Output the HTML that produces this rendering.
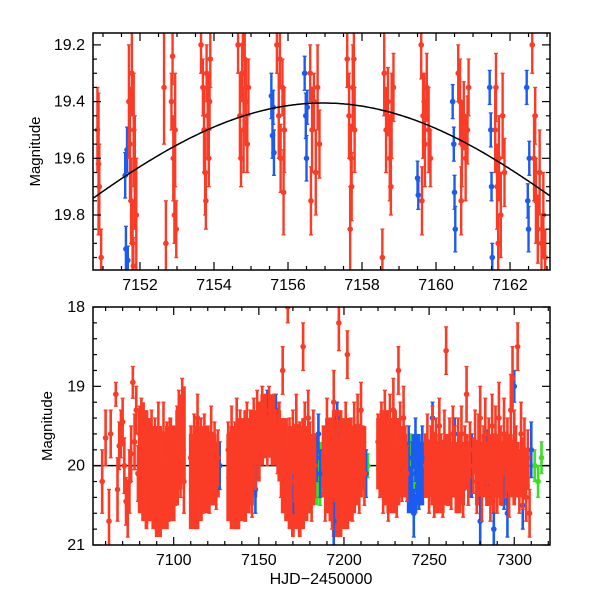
<!DOCTYPE html>
<html><head><meta charset="utf-8"><style>
body{margin:0;background:#fff}
svg text{font-family:"Liberation Sans",sans-serif;fill:#000}
</style></head><body>
<svg id="c" width="600" height="600" xmlns="http://www.w3.org/2000/svg"></svg>
<script>
// ---- data ----
const topRed=[[7150.85,19.5,.15],[7150.9,19.7,.15],[7150.95,19.95,.1],[7150.88,19.62,.25],
[7151.7,19.4,.2],[7151.73,19.55,.2],[7151.76,19.75,.15],[7151.8,19.9,.15],[7151.83,19.5,.2],[7151.86,19.65,.2],[7151.78,19.3,.15],[7151.9,19.8,.2],[7151.82,19.98,.1],
[7152.65,19.35,.2],[7152.7,19.9,.15],[7152.85,19.4,.1],[7152.88,19.24,.1],[7152.9,19.6,.15],[7152.93,19.8,.1],[7152.95,19.5,.2],[7152.98,19.85,.1],
[7153.65,19.2,.1],[7153.7,19.35,.1],[7153.73,19.5,.15],[7153.76,19.65,.15],[7153.8,19.3,.1],[7153.83,19.45,.15],[7153.86,19.6,.1],[7153.9,19.25,.1],[7153.78,19.75,.1],[7153.88,19.4,.1],
[7154.65,19.2,.1],[7154.7,19.45,.15],[7154.73,19.6,.1],[7154.76,19.3,.1],[7154.8,19.5,.15],[7154.83,19.25,.1],[7154.86,19.4,.15],[7154.9,19.55,.1],[7154.78,19.2,.05],[7154.93,19.35,.1],
[7155.7,19.2,.1],[7155.75,19.45,.15],[7155.8,19.6,.12],[7155.85,19.35,.1],[7155.9,19.5,.15],[7155.78,19.25,.1],[7155.88,19.72,.15],
[7156.6,19.3,.1],[7156.65,19.5,.15],[7156.7,19.4,.1],[7156.75,19.65,.15],[7156.8,19.35,.15],[7156.85,19.55,.12],[7156.62,19.75,.12],
[7157.6,19.25,.1],[7157.65,19.45,.15],[7157.7,19.6,.12],[7157.75,19.35,.15],[7157.8,19.5,.15],[7157.68,19.85,.15],[7157.78,19.25,.1],[7157.72,19.7,.12],
[7158.6,19.3,.15],[7158.65,19.5,.15],[7158.7,19.4,.12],[7158.75,19.6,.15],[7158.8,19.45,.15],[7158.85,19.35,.12],[7158.55,19.95,.1],[7158.78,19.7,.1],
[7159.6,19.2,.12],[7159.65,19.45,.15],[7159.7,19.55,.15],[7159.75,19.35,.12],[7159.8,19.5,.15],[7159.62,19.75,.12],[7159.85,19.6,.1],[7159.68,19.4,.1],
[7160.65,19.4,.15],[7160.7,19.55,.15],[7160.75,19.45,.12],[7160.8,19.6,.15],[7160.85,19.5,.12],[7160.68,19.75,.12],[7160.6,19.3,.1],[7160.88,19.35,.1],
[7161.6,19.5,.15],[7161.65,19.7,.15],[7161.7,19.6,.15],[7161.75,19.8,.15],[7161.8,19.45,.15],[7161.85,19.65,.12],[7161.68,19.9,.1],[7161.62,19.35,.12],
[7162.6,19.2,.1],[7162.65,19.6,.15],[7162.7,19.75,.15],[7162.75,19.85,.12],[7162.8,19.65,.15],[7162.85,19.9,.1],[7162.9,19.8,.15],[7162.95,19.95,.1],[7162.68,19.45,.1]];
const topBlue=[[7151.6,19.66,.08],[7151.62,19.92,.08],[7151.65,19.57,.08],[7151.67,19.96,.05],[7155.55,19.38,.08],[7155.58,19.52,.08],[7155.6,19.42,.06],[7155.62,19.58,.08],
[7156.45,19.3,.06],[7156.48,19.45,.08],[7156.5,19.6,.08],[7156.52,19.42,.06],[7159.5,19.67,.06],[7159.52,19.73,.05],[7160.45,19.4,.06],[7160.48,19.55,.06],[7160.5,19.72,.06],[7160.52,19.85,.08],
[7161.45,19.35,.06],[7161.48,19.5,.06],[7161.5,19.7,.05],[7161.52,19.95,.05],[7162.45,19.35,.06],[7162.48,19.75,.06],[7162.5,19.85,.08],[7162.52,19.6,.06]];
const botRed=[[7058,20.2,.4],[7060,19.65,.35],[7062,20.7,.4],[7063,19.6,.3],[7066,19.1,.15],[7067,20.3,.4],[7068,19.75,.3],[7069,19.6,.3],[7070,19.45,.3],[7071,20,.35],[7072,20.45,.3],[7073,20.55,.35],[7074,20.2,.4],[7075,19.85,.35],[7076,18.95,.2],[7077,19.7,.35],[7078,19.3,.3],[7079,20.1,.35],[7080,19.6,.35],[7081,19.5,.35],[7082,20.2,.35],[7083,19.8,.4],[7084,20.1,.35],[7085,19.9,.4],[7086,20.3,.35],[7087,19.7,.4],[7088,20.1,.4],[7089,19.8,.4],[7090,20.2,.4],[7091,19.55,.35],[7092,20,.45],[7093,20.3,.35],[7094,19.6,.4],[7095,20.1,.4],[7096,19.9,.45],[7097,20.4,.3],[7098,19.8,.4],[7099,20.2,.35],[7100,19.9,.4],[7101,20.1,.4],[7102,19.6,.35],[7103,19.4,.35],[7104,20,.4],[7105,19.3,.4],[7106,20.2,.4],
[7110,19.9,.4],[7111,20.2,.4],[7112,19.7,.35],[7113,20.3,.35],[7114,19.4,.3],[7115,20,.4],[7116,19.8,.4],[7117,20.2,.4],[7118,19.7,.35],[7119,20.1,.4],[7120,19.9,.4],[7121,20.3,.3],[7122,19.6,.35],[7123,20,.4],[7124,19.8,.35],[7125,20.2,.35],[7126,19.9,.35],
[7132,19.8,.35],[7133,20.2,.4],[7134,19.6,.35],[7135,20.3,.4],[7136,19.9,.45],[7137,19.5,.35],[7138,20.2,.4],[7139,19.7,.4],[7140,20.1,.45],[7141,19.9,.4],[7142,20.3,.4],[7143,19.6,.4],[7144,20,.45],[7145,19.7,.4],[7146,20.2,.45],[7147,19.5,.35],[7148,19.9,.4],[7149,19.4,.35],
[7150,19.8,.35],[7151,19.5,.3],[7152,19.3,.3],[7153,19.6,.3],[7154,19.4,.3],[7155,19.7,.3],[7156,19.3,.3],[7157,19.5,.3],[7158,19.6,.3],[7159,19.4,.3],[7160,19.6,.3],[7161,19.8,.3],[7162,19.5,.3],[7163,20,.4],[7164,18.8,.3],[7165,19.9,.4],[7166,20.3,.35],[7167,18.0,.2],[7168,19.8,.4],[7169,20.2,.4],[7170,19.7,.4],[7171,20,.45],[7172,19.5,.4],[7173,20.3,.4],[7174,19.9,.45],[7175,20.1,.4],[7176,18.5,.3],[7177,19.6,.4],[7178,20.2,.45],[7179,19.4,.35],[7180,19.9,.45],[7181,20.3,.4],[7182,19.7,.4],[7183,20,.4],
[7188,19.9,.4],[7189,20.3,.4],[7190,19.6,.45],[7191,20.1,.45],[7192,19.8,.4],[7193,20.4,.4],[7194,19.2,.4],[7195,20,.45],[7196,19.7,.4],[7197,18.2,.35],[7198,20.2,.45],[7199,19.9,.45],[7200,20.4,.35],[7201,19.6,.4],[7202,18.6,.3],[7203,20.1,.45],[7204,19.8,.4],[7205,20.3,.4],[7206,19.6,.4],[7207,20,.45],[7208,19.5,.4],[7209,20.2,.4],[7210,19.3,.35],[7211,19.9,.4],[7212,20.1,.4],
[7220,19.7,.35],[7221,20,.4],[7222,19.6,.4],[7223,20.2,.4],[7224,19.4,.35],[7225,19.9,.4],[7226,20.3,.4],[7227,19.5,.4],[7228,20,.45],[7229,19.3,.4],[7230,19.8,.4],[7231,20.2,.45],[7232,18.8,.3],[7233,19.6,.4],[7234,20,.45],[7235,19.4,.4],[7236,19.9,.4],[7237,20.1,.35],
[7248,20,.4],[7249,19.7,.35],[7250,20.2,.4],[7251,19.9,.4],[7252,19.6,.35],[7253,20.3,.35],[7254,19.8,.4],[7255,20.1,.4],[7256,19.5,.35],[7257,20,.4],[7258,20.3,.35],[7259,19.7,.4],[7260,18.55,.3],[7261,20.1,.4],[7262,19.8,.4],[7263,20.2,.35],[7264,19.6,.35],[7265,19.9,.4],[7266,20.2,.35],[7267,19.8,.4],[7268,20,.4],[7269,19.6,.35],[7270,20.3,.35],[7271,19.9,.4],[7272,19.1,.35],[7273,20.1,.4],[7274,19.8,.35],
[7276,20,.35],[7277,19.7,.4],[7278,20.2,.4],[7279,19.8,.45],[7280,19.4,.4],[7281,20.3,.4],[7282,19.9,.4],[7283,19.6,.45],[7284,20.1,.4],[7285,19.8,.4],[7286,20.3,.4],[7287,19.5,.4],[7288,20,.4],[7289,19.7,.45],[7290,20.2,.4],[7291,19.4,.45],[7292,19.9,.4],[7293,20.1,.4],[7294,19.6,.45],[7295,20,.4],[7296,19.8,.4],[7297,20.3,.35],[7298,19.3,.45],[7299,18.9,.4],[7300,19.7,.4],[7301,19.9,.4],[7302,18.5,.3],[7303,20.2,.4],[7304,19.6,.4],[7305,20.1,.45],[7306,19.8,.4],[7307,20.4,.3],[7308,19.9,.35],[7309,20.6,.3]];
const botBlue=[[7127,20,.3],[7148,20.3,.3],[7155,19.2,.15],[7160,19.3,.2],[7170,20.3,.3],[7184,19.9,.3],[7185,19.6,.25],[7186,20.1,.3],[7194,20.7,.3],[7196,19.4,.2],[7213,20.1,.3],[7238,19.9,.4],[7240,20.1,.4],[7241,20.6,.3],[7242,19.8,.4],[7244,20.2,.35],[7246,19.9,.4],[7252,19.4,.2],[7265,19.6,.2],[7275,20,.4],[7280,20.7,.3],[7284,19.9,.35],[7288,20.8,.2],[7294,20.2,.35],[7296,20.6,.3],[7300,19.0,.2],[7305,20.5,.3],[7310,19.8,.35]];
const botGreen=[[7184,20.1,.2],[7186,20.3,.2],[7214,20,.15],[7239,19.8,.2],[7241,20.2,.15],[7312,20,.2],[7314,20.2,.2],[7316,19.9,.2]];
// per-night envelope of the dense measurement mass: [day, brightest, faintest]
const botRedBand=[[7080,19.3,20.6],[7082,19.2,20.7],[7084,19.3,20.8],[7086,19.4,20.7],[7088,19.5,20.8],[7090,19.5,20.9],[7092,19.5,20.9],[7094,19.6,20.8],[7096,19.5,20.8],[7098,19.4,20.7],[7100,19.5,20.7],[7102,19.3,20.5],[7104,19.1,20.3],[7106,19.0,20.2],
[7110,19.6,20.8],[7112,19.5,20.8],[7114,19.4,20.8],[7116,19.5,20.7],[7118,19.5,20.6],[7120,19.5,20.6],[7122,19.6,20.5],[7124,19.6,20.5],[7126,19.7,20.4],
[7132,19.6,20.7],[7134,19.5,20.8],[7136,19.5,20.8],[7138,19.4,20.8],[7140,19.4,20.7],[7142,19.3,20.7],[7144,19.4,20.6],[7146,19.3,20.5],[7148,19.3,20.4],[7150,19.2,20.2],[7152,19.1,20.0],[7154,19.1,19.9],[7156,19.1,19.9],[7158,19.1,20.0],[7160,19.2,20.0],[7162,19.3,20.2],[7164,19.4,20.6],[7166,19.4,20.7],[7168,19.5,20.8],[7170,19.5,20.9],[7172,19.5,20.8],[7174,19.5,20.9],[7176,19.4,20.8],[7178,19.5,20.7],[7180,19.6,20.6],[7182,19.6,20.5],
[7188,19.5,20.4],[7190,19.4,20.6],[7192,19.4,20.7],[7194,19.3,20.9],[7196,19.3,20.9],[7198,19.3,20.9],[7200,19.4,20.8],[7202,19.4,20.8],[7204,19.4,20.7],[7206,19.5,20.6],[7208,19.5,20.5],[7210,19.5,20.4],[7212,19.5,20.3],
[7220,19.4,20.3],[7222,19.3,20.4],[7224,19.3,20.5],[7226,19.3,20.6],[7228,19.4,20.6],[7230,19.3,20.6],[7232,19.4,20.5],[7234,19.5,20.4],[7236,19.6,20.4],
[7248,19.6,20.4],[7250,19.7,20.4],[7252,19.6,20.5],[7254,19.6,20.6],[7256,19.7,20.6],[7258,19.7,20.6],[7260,19.6,20.5],[7262,19.6,20.5],[7264,19.7,20.4],[7266,19.7,20.6],[7268,19.6,20.6],[7270,19.7,20.5],[7272,19.6,20.3],[7274,19.7,20.4],
[7278,19.7,20.5],[7280,19.7,20.5],[7282,19.6,20.4],[7284,19.7,20.5],[7286,19.6,20.5],[7288,19.7,20.6],[7290,19.6,20.4],[7292,19.7,20.5],[7294,19.6,20.5],[7296,19.6,20.5],[7298,19.6,20.4],[7300,19.7,20.5],[7302,19.7,20.4],[7304,19.8,20.4],[7306,19.8,20.4],[7308,19.8,20.3]];
const botBlueBand=[[7238,19.7,20.6],[7240,19.6,20.6],[7242,19.6,20.6],[7244,19.6,20.5],[7246,19.7,20.5]];
const botGreenBand=[[7184,19.7,20.5],[7186,19.7,20.4]];
const topXTicks=[7152,7154,7156,7158,7160,7162];
const topYTicks=[19.2,19.4,19.6,19.8];
const botXTicks=[7100,7150,7200,7250,7300];
const botYTicks=[18,19,20,21];
const model={mean:19.862,amp:0.457,period:30,peak:7156.95};
const botLine=[20];

const NS='http://www.w3.org/2000/svg';
const svg=document.getElementById('c');
function mk(t,a,p){const e=document.createElementNS(NS,t);for(const k in a)e.setAttribute(k,a[k]);(p||svg).appendChild(e);return e;}
function lin(d0,d1,r0,r1){return v=>r0+(v-d0)/(d1-d0)*(r1-r0);}

function panel(o){
  const g=mk('g',{});
  
  
  const X=lin(o.xd[0],o.xd[1],o.L,o.R), Y=lin(o.yd[0],o.yd[1],o.T,o.B);
  const cp='clip'+o.name;
  const cl=mk('clipPath',{id:cp},g);mk('rect',{x:o.L,y:o.T,width:o.R-o.L,height:o.B-o.T},cl);
  const dg=mk('g',{'clip-path':'url(#'+cp+')'},g);
  
  
  if(o.hline){o.hline.forEach(v=>{const l=mk('line',{x1:o.L,x2:o.R,y1:Y(v),y2:Y(v),stroke:'#000','stroke-width':1.5},dg);});}
  (o.bands||[]).forEach(b=>{
    const bg=mk('g',{fill:b.c},dg);
    
    
    b.d.forEach(p=>{const x0=X(p[0]-1.1),x1=X(p[0]+1.1);mk('rect',{x:x0,y:Y(p[1]),width:x1-x0,height:Y(p[2])-Y(p[1])},bg);});
  });
  o.series.forEach(s=>{
    const sg=mk('g',{stroke:s.c,fill:s.c,'stroke-width':s.w},dg);
    
    
    s.d.forEach(p=>{
      const x=X(p[0]),y=Y(p[1]),y1=Y(p[1]-p[2]),y2=Y(p[1]+p[2]);
      mk('line',{x1:x,x2:x,y1:y1,y2:y2},sg);
      mk('line',{x1:x-2,x2:x+2,y1:y1,y2:y1,'stroke-width':1.3},sg);
      mk('line',{x1:x-2,x2:x+2,y1:y2,y2:y2,'stroke-width':1.3},sg);
      mk('circle',{cx:x,cy:y,r:2.8,stroke:'none'},sg);
    });
  });
  if(o.curve){let d='';for(let t=o.xd[0];t<=o.xd[1]+0.01;t+=0.05){const m=model.mean-model.amp*Math.cos(2*Math.PI*(t-model.peak)/model.period);d+=(d?'L':'M')+X(t).toFixed(1)+','+Y(m).toFixed(1);}
    const c=mk('path',{d:d,fill:'none',stroke:'#000','stroke-width':1.5},dg);}
  const ax=mk('g',{stroke:'#000','stroke-width':1.2,fill:'none'},g);
  
  
  mk('rect',{x:o.L,y:o.T,width:o.R-o.L,height:o.B-o.T,'stroke-width':1.5},ax);
  const s0=Math.ceil(o.xd[0]/o.xm-1e-6);
  for(let i=s0;i*o.xm<=o.xd[1];i++){const v=i*o.xm,x=X(v);const maj=Math.abs(v/o.xM-Math.round(v/o.xM))<1e-6;const len=maj?8:4;
    mk('line',{x1:x,x2:x,y1:o.B,y2:o.B-len},ax);mk('line',{x1:x,x2:x,y1:o.T,y2:o.T+len},ax);}
  const t0=Math.ceil(o.yd[0]/o.ym-1e-6);
  for(let i=t0;i*o.ym<=o.yd[1]+1e-9;i++){const v=i*o.ym,y=Y(v);const maj=Math.abs(v/o.yM-Math.round(v/o.yM))<1e-6;const len=maj?8:4;
    mk('line',{x1:o.L,x2:o.L+len,y1:y,y2:y},ax);mk('line',{x1:o.R,x2:o.R-len,y1:y,y2:y},ax);}
  o.xt.forEach(v=>{const t=mk('text',{x:X(v),y:o.B+20,'text-anchor':'middle','font-size':16},g);t.textContent=v;});
  o.yt.forEach(v=>{const t=mk('text',{x:o.L-8,y:Y(v)+5,'text-anchor':'end','font-size':16},g);t.textContent=o.yf(v);});
  const yl=mk('text',{x:0,y:0,'text-anchor':'middle','font-size':15,transform:'translate('+o.ylx+','+((o.T+o.B)/2)+') rotate(-90)'},g);
  yl.textContent='Magnitude';
  
  
}
panel({name:'top-panel',L:93,R:550,T:33,B:270,xd:[7150.73,7163.08],yd:[19.158,19.994],xm:0.5,xM:2,ym:0.05,yM:0.2,xt:topXTicks,yt:topYTicks,yf:v=>v.toFixed(1),ylx:40,curve:true,
  series:[{n:'top-blue-series',c:'#1a5cf0',d:topBlue,w:2.4},{n:'top-red-series',c:'#fa3c26',d:topRed,w:2.4}]});
panel({name:'bottom-panel',L:93,R:550,T:307,B:545,xd:[7052.6,7321],yd:[18,21],xm:10,xM:50,ym:0.2,yM:1,xt:botXTicks,yt:botYTicks,yf:v=>v,ylx:52,hline:botLine,
  bands:[{n:'bottom-green-band',c:'#3ae022',d:botGreenBand},{n:'bottom-blue-band',c:'#1a5cf0',d:botBlueBand},{n:'bottom-red-band',c:'#fa3c26',d:botRedBand}],
  series:[{n:'bottom-green-series',c:'#3ae022',d:botGreen,w:2.6},{n:'bottom-blue-series',c:'#1a5cf0',d:botBlue,w:2.6},{n:'bottom-red-series',c:'#fa3c26',d:botRed,w:2.6}]});
const xl=mk('text',{x:321,y:584,'text-anchor':'middle','font-size':16});
xl.textContent='HJD\u22122450000';


</script>
</body></html>
